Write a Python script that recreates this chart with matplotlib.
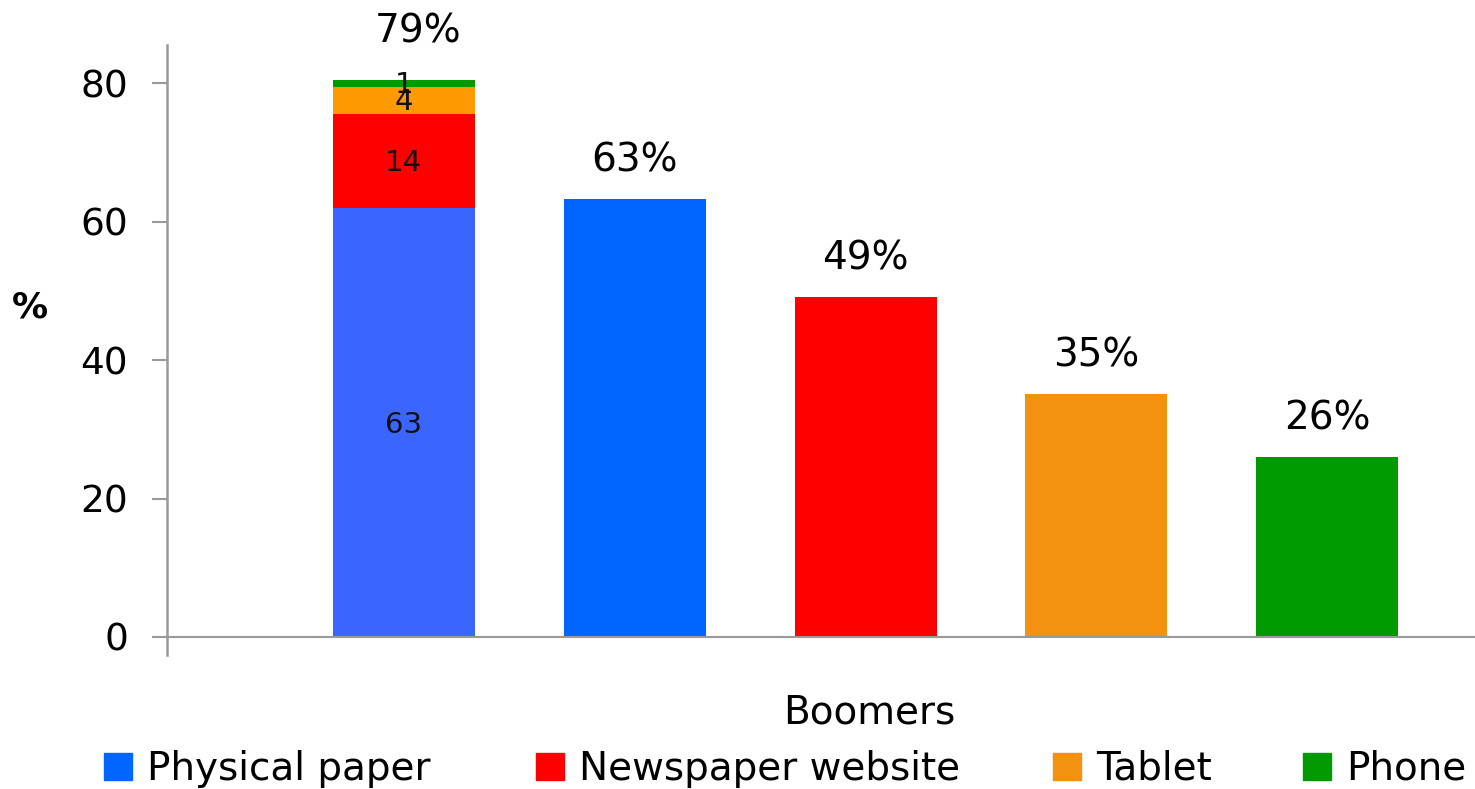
import matplotlib.pyplot as plt
from matplotlib.patches import Rectangle

plt.rcParams['font.family'] = ['DejaVu Sans']

# stacked first bar (segment heights as drawn) and its printed labels
stack_vals = [62, 13.6, 3.9, 1.0]
stack_labels = ['63', '14', '4', '1']
stack_colors = ['#3A66FF', '#FF0000', '#FF9900', '#009900']
stack_total_label = '79%'

# single bars
categories = ['Physical paper', 'Newspaper website', 'Tablet', 'Phone']
values = [63.2, 49.1, 35.1, 26.0]
value_labels = ['63%', '49%', '35%', '26%']
colors = ['#0066FF', '#FF0000', '#F39110', '#009900']

yticks = [0, 20, 40, 60, 80]
xlabel = 'Boomers'
ylabel = '%'

W, H = 1475, 789
fig = plt.figure(figsize=(W / 100, H / 100), dpi=100, facecolor='white')
ax = fig.add_axes([167 / W, 1 - 655 / H, 1 - 167 / W, (655 - 45) / H])

bw = 0.615
# stacked bar at position 0
bottom = 0
for v, lab, c in zip(stack_vals, stack_labels, stack_colors):
    ax.bar(0, v, bottom=bottom, width=bw, color=c, edgecolor='none')
    ax.text(0, bottom + v / 2 - 1.5, lab, ha='center', va='baseline', fontsize=21, color='#111111')
    bottom += v
ax.text(0.06, bottom + 5.4, stack_total_label, ha='center', va='baseline', fontsize=28, clip_on=False)

xs = list(range(1, len(values) + 1))
ax.bar(xs, values, width=bw, color=colors, edgecolor='none')
for x, v, lab in zip(xs, values, value_labels):
    ax.text(x, v + 4.0, lab, ha='center', va='baseline', fontsize=28)

ax.set_xlim(-1.026, 4.64)
ax.set_ylim(-2.6, 85.5)
ax.set_yticks(yticks)
ax.set_xticks([])
ax.tick_params(axis='y', length=11, width=1.5, color='#999999', labelsize=27, pad=17)
for s in ['top', 'right', 'bottom']:
    ax.spines[s].set_visible(False)
ax.spines['left'].set_color('#999999')
ax.spines['left'].set_linewidth(1.8)
ax.axhline(0, color='#999999', lw=1.5)

fig.text(869 / W, 1 - 723 / H, xlabel, ha='center', va='baseline', fontsize=28)
fig.text(30 / W, 1 - 317 / H, ylabel, ha='center', va='baseline', fontsize=26, fontweight='bold')

# legend entries placed along the bottom
leg_x = [104, 536, 1053, 1303]
for x0, lab, c in zip(leg_x, categories, colors):
    fig.patches.append(Rectangle((x0 / W, 1 - 780 / H), 28 / W, 27 / H, color=c,
                                 transform=fig.transFigure, figure=fig))
    fig.text((x0 + 43) / W, 1 - 780 / H, lab, ha='left', va='baseline', fontsize=28)

fig.savefig('out.png', dpi=100, facecolor='white')
